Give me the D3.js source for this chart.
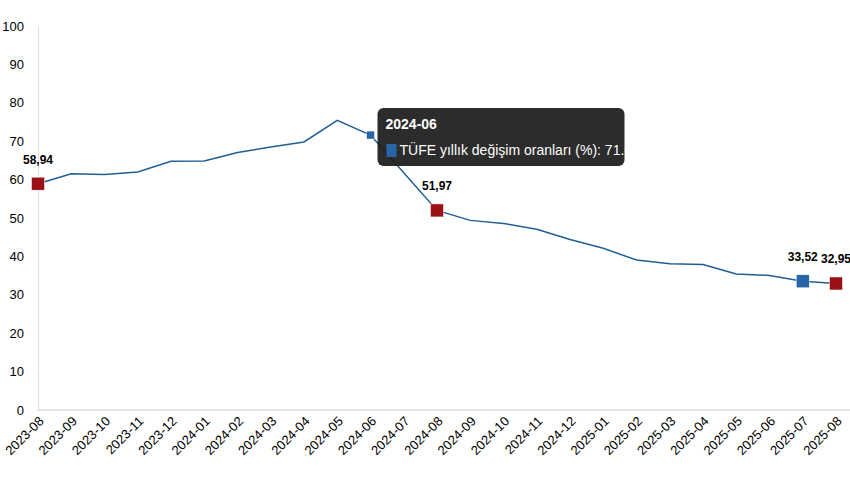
<!DOCTYPE html><html><head><meta charset="utf-8"><script src="https://cdn.jsdelivr.net/npm/d3@7"></script>
<style>body{margin:0;background:#fff}text{font-family:"Liberation Sans",Arial,sans-serif}</style></head><body><svg width="850" height="478"></svg><script>
const categories=["2023-08","2023-09","2023-10","2023-11","2023-12","2024-01","2024-02","2024-03","2024-04","2024-05","2024-06","2024-07","2024-08","2024-09","2024-10","2024-11","2024-12","2025-01","2025-02","2025-03","2025-04","2025-05","2025-06","2025-07","2025-08"];
const values=[58.94,61.53,61.36,61.98,64.77,64.86,67.07,68.50,69.80,75.45,71.60,61.78,51.97,49.38,48.58,47.09,44.38,42.12,39.05,38.10,37.86,35.41,35.05,33.52,32.95];
const yTicks=[0,10,20,30,40,50,60,70,80,90,100];
const redMarks=["2023-08","2024-08","2025-08"];
const blueMarks=["2025-07"];
const labels={"2023-08":"58,94","2024-08":"51,97","2025-07":"33,52","2025-08":"32,95"};
const tip={cat:"2024-06",title:"2024-06",text:"TÜFE yıllık değişim oranları (%): 71.6"};
const svg=d3.select("svg");
const x=d3.scalePoint().domain(categories).range([38,836]);
const y=d3.scaleLinear().domain([0,100]).range([410,26]);
const ya=svg.append("g").attr("transform","translate(38,0)").call(d3.axisLeft(y).tickValues(yTicks).tickSize(0).tickPadding(14));
ya.select(".domain").attr("stroke","#ddd");
ya.selectAll("text").attr("font-size",13).attr("fill","#000").attr("font-family","Liberation Sans Narrow, Arial Narrow, sans-serif");
const xa=svg.append("g").attr("transform","translate(0,410)").call(d3.axisBottom(x).tickSize(0).tickPadding(0));
xa.select(".domain").attr("stroke","#ccc").attr("d","M38,0H850");
xa.selectAll("text").attr("font-size",13).attr("fill","#000").attr("text-anchor","end").attr("dy",0).attr("transform","translate(6,12) rotate(-45)");
const d=categories.map((c,i)=>({c,v:values[i]}));
svg.append("path").datum(d).attr("fill","none").attr("stroke","#1f5f96").attr("stroke-width",1.5).attr("d",d3.line().x(p=>x(p.c)).y(p=>y(p.v)));
d.forEach(p=>{
 let s=0,col=null;
 if(redMarks.includes(p.c)){s=13;col="#9b1116";}
 else if(blueMarks.includes(p.c)){s=13;col="#2764a8";}
 else if(p.c===tip.cat){s=8;col="#2764a8";}
 if(s) svg.append("rect").attr("x",x(p.c)-s/2).attr("y",y(p.v)-s/2).attr("width",s).attr("height",s).attr("fill",col).attr("stroke","#fff").attr("stroke-width",0.5);
 if(labels[p.c]) svg.append("text").attr("x",x(p.c)).attr("y",y(p.v)-20).attr("text-anchor","middle").attr("font-size",12).attr("font-weight","bold").text(labels[p.c]);
});
const tx=x(tip.cat)+7,ty=108;
svg.append("rect").attr("x",tx).attr("y",ty).attr("width",247).attr("height",58).attr("rx",6).attr("fill","#1c1c1c").attr("opacity",0.93);
svg.append("text").attr("x",tx+8).attr("y",ty+21).attr("fill","#fff").attr("font-size",14).attr("font-weight","bold").text(tip.title);
svg.append("rect").attr("x",tx+9).attr("y",ty+36).attr("width",10).attr("height",13).attr("fill","#2764a8");
svg.append("text").attr("x",tx+22).attr("y",ty+47).attr("fill","#fff").attr("font-size",14).text(tip.text);
</script></body></html>
